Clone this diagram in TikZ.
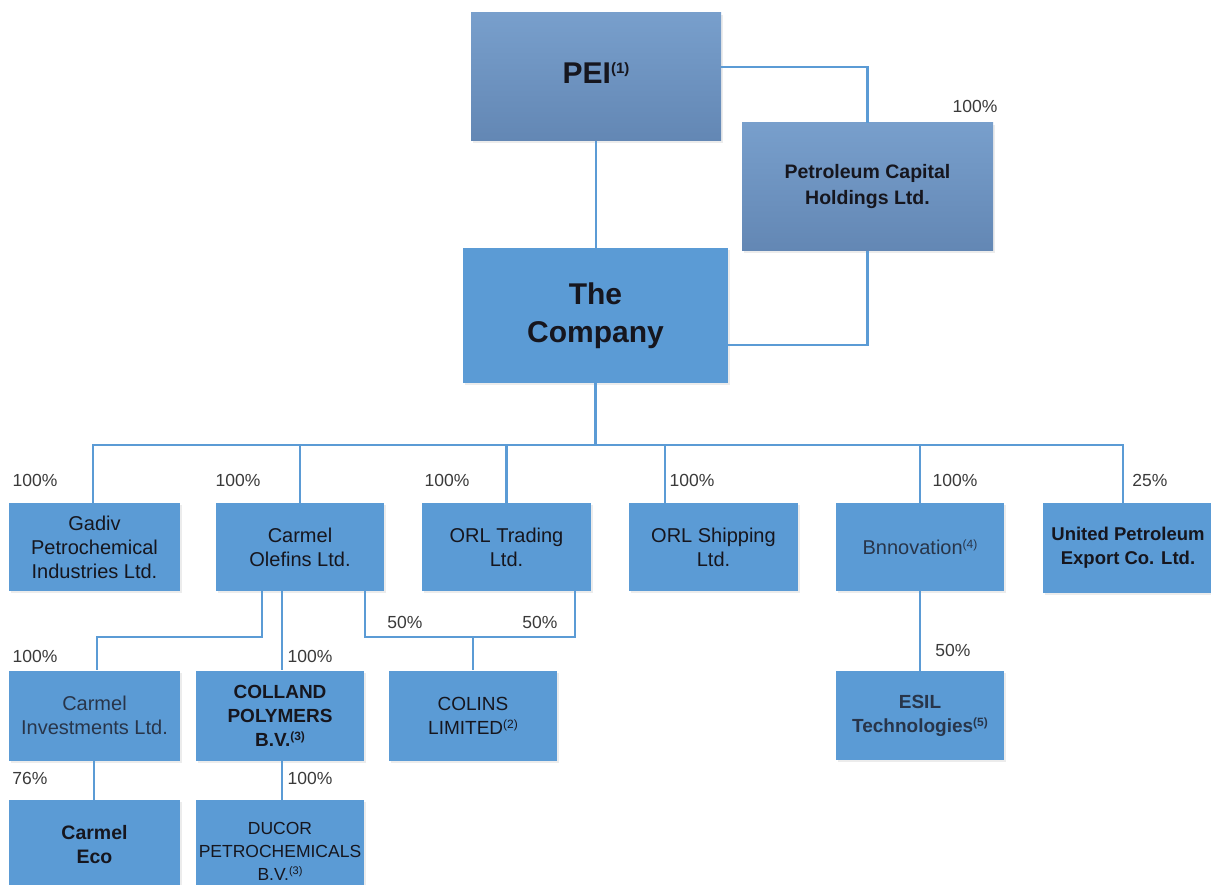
\documentclass[tikz,border=0pt]{standalone}
\usepackage{fontspec}
\setmainfont{Liberation Sans}
\usetikzlibrary{shadows}
\definecolor{boxblue}{HTML}{5B9BD5}
\definecolor{linblue}{HTML}{5B9BD5}
\definecolor{toplight}{HTML}{789FCC}
\definecolor{topdark}{HTML}{6387B4}
\definecolor{txt}{HTML}{16161E}
\definecolor{txtsoft}{HTML}{28354A}
\definecolor{pctgray}{HTML}{3A3A3A}
\newcommand\setfs[2]{\fontsize{#1}{#2}\selectfont}
\newcommand\supnote[3]{{\fontsize{#1}{#1}\selectfont\raisebox{#2}{#3}}}
\begin{document}
\begin{tikzpicture}[x=1pt,y=-1pt,
  box/.style n args={2}{rectangle, inner sep=0pt, minimum width=#1pt, minimum height=#2pt,
    fill=boxblue, align=center, text=txt,
    drop shadow={opacity=0.15, shadow xshift=2pt, shadow yshift=-2pt}},
  topbox/.style={top color=toplight, bottom color=topdark},
  conn/.style={draw=linblue, line width=2.3pt},
  pctlab/.style={text=pctgray, font=\setfs{17.5}{20}, inner sep=0pt},
  reg/.style={font=\setfs{20}{24}},
  bld/.style={font=\bfseries\setfs{19}{24}}
  ]
\useasboundingbox (0,0) rectangle (1211,885);
\fill[white] (0,0) rectangle (1211,885);

% top
\node[box={250}{128}, topbox, font=\bfseries\setfs{30}{36}] (pei) at (596,77) {\raisebox{7pt}{PEI\supnote{15}{10pt}{(1)}}};
\node[box={251}{128}, topbox, font=\bfseries\setfs{19.5}{26}] (pch) at (867.5,187) {Petroleum Capital\\Holdings Ltd.};
\node[box={265}{135}, font=\bfseries\setfs{30}{38}] (comp) at (595.5,315.5) {The\\Company};

% level 1
\node[box={171}{88}, reg] (gadiv) at (94.5,547) {Gadiv\\Petrochemical\\Industries Ltd.};
\node[box={168}{88}, reg] (olefins) at (300,547) {Carmel\\Olefins Ltd.};
\node[box={169}{88}, reg] (orlt) at (506.5,547) {ORL Trading\\Ltd.};
\node[box={169}{88}, reg] (orls) at (713.5,547) {ORL Shipping\\Ltd.};
\node[box={168}{88}, reg, text=txtsoft] (bnn) at (920,547) {Bnnovation\supnote{12}{6pt}{(4)}};
\node[box={170}{90}, font=\bfseries\setfs{18.5}{24}] (upec) at (1128,548) {United Petroleum\\Export Co. Ltd.};

% level 2
\node[box={171}{90}, reg, text=txtsoft] (cinv) at (94.5,715.5) {Carmel\\Investments Ltd.};
\node[box={168}{90}, bld] (colland) at (280,715.5) {COLLAND\\POLYMERS\\B.V.\supnote{12}{6pt}{(3)}};
\node[box={168}{90}, font=\setfs{19}{24}] (colins) at (473,715.5) {COLINS\\LIMITED\supnote{12}{6pt}{(2)}};
\node[box={168}{89}, bld, text=txtsoft] (esil) at (920,715.5) {ESIL\\Technologies\supnote{12}{6pt}{(5)}};

% level 3
\node[box={171}{90}, font=\bfseries\setfs{19.5}{24}] (eco) at (94.5,845) {Carmel\\Eco};
\node[box={168}{102}, font=\setfs{17.5}{23}, text=txt] (ducor) at (280,851) {DUCOR\\PETROCHEMICALS\\B.V.\supnote{11}{6pt}{(3)}};

% connectors
\draw[conn] ([yshift=10pt]pei.east) -| (pch.north);
\draw[conn] (pei.south) -- (pei.south |- comp.north);
\draw[conn] (pch.south) |- ([yshift=-29.5pt]comp.east);
\coordinate (bus) at (596,445);
\draw[conn] (comp.south) -- (comp.south |- bus);
\draw[conn] ([xshift=-1.5pt]gadiv.north) |- (bus) -| ([xshift=-5pt]upec.north);
\draw[conn] (olefins.north) -- (olefins.north |- bus);
\draw[conn] (orlt.north) -- (orlt.north |- bus);
\coordinate (osn) at ([xshift=-48.5pt]orls.north);
\draw[conn] (osn) -- (osn |- bus);
\draw[conn] (bnn.north) -- (bnn.north |- bus);

\draw[conn] ([xshift=-38pt]olefins.south) -- ++(0,46) -| ([xshift=2.5pt]cinv.north);
\draw[conn] ([xshift=-18pt]olefins.south) -- ([xshift=2pt]colland.north);
\coordinate (cj) at (473,637);
\coordinate (ots) at ([xshift=68.5pt]orlt.south);
\draw[conn] ([xshift=65pt]olefins.south) |- (ots |- cj) -- (ots);
\draw[conn] (cj) -- (colins.north);
\draw[conn] (bnn.south) -- (esil.north);
\draw[conn] ([xshift=-0.5pt]cinv.south) -- ([xshift=-0.5pt]eco.north);
\draw[conn] ([xshift=2pt]colland.south) -- ([xshift=2pt]ducor.north);

% percentages
\node[pctlab] (p0) at (975,106) {100\%};
\node[pctlab] (p1) at (35,480) {100\%};
\node[pctlab] (p2) at (238,480) {100\%};
\node[pctlab] (p3) at (447,480) {100\%};
\node[pctlab] (p4) at (692,480) {100\%};
\node[pctlab] (p5) at (955,480) {100\%};
\node[pctlab] (p6) at (1150,480) {25\%};
\node[pctlab] (p7) at (405,622) {50\%};
\node[pctlab] (p8) at (540,622) {50\%};
\node[pctlab] (p9) at (35,656) {100\%};
\node[pctlab] (p10) at (310,656) {100\%};
\node[pctlab] (p11) at (953,650) {50\%};
\node[pctlab] (p12) at (30,778) {76\%};
\node[pctlab] (p13) at (310,778) {100\%};
\end{tikzpicture}
\end{document}
